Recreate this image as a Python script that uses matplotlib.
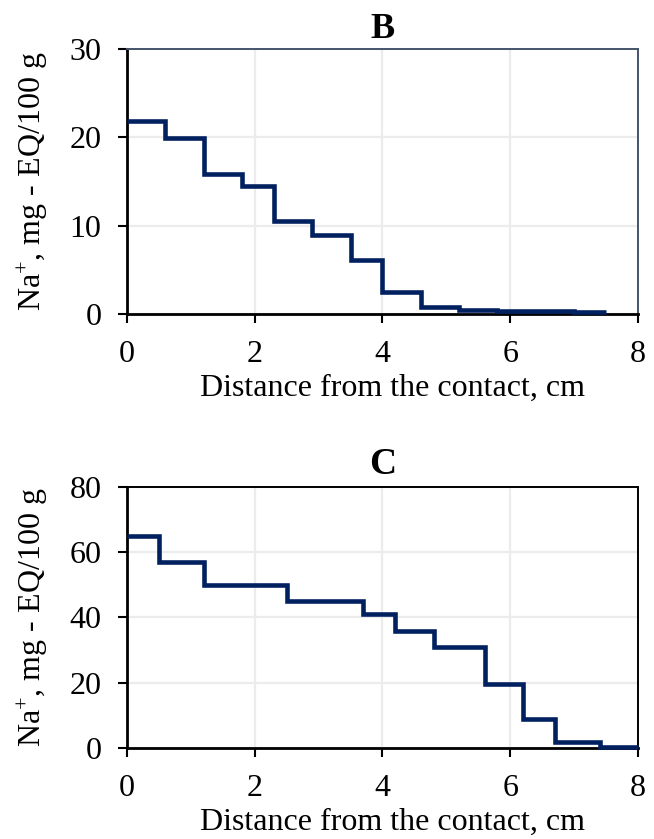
import matplotlib
matplotlib.use("Agg")
import matplotlib.pyplot as plt

# Panel B data
b_edges = [0, 0.6, 1.2, 1.8, 2.3, 2.9, 3.5, 4.0, 4.6, 5.2, 5.8, 6.4, 7.0, 7.5]
b_values = [21.8, 19.9, 15.9, 14.5, 10.5, 9.0, 6.1, 2.5, 0.8, 0.45, 0.35, 0.3, 0.25]

# Panel C data
c_edges = [0, 0.5, 1.2, 2.5, 3.7, 4.2, 4.8, 5.6, 6.2, 6.7, 7.4, 8.0]
c_values = [65, 57, 50, 45, 41, 36, 31, 19.7, 8.8, 1.8, 0.3]

x_ticks = [0, 2, 4, 6, 8]
b_yticks = [0, 10, 20, 30]
c_yticks = [0, 20, 40, 60, 80]

xlabel = "Distance from the contact, cm"
ylabel = r"Na$^{+}$, mg - EQ/100 g"

plt.rcParams['font.family'] = ['Liberation Serif', 'DejaVu Serif']
plt.rcParams['mathtext.fontset'] = 'custom'
plt.rcParams['mathtext.rm'] = 'Liberation Serif'
plt.rcParams['mathtext.it'] = 'Liberation Serif:italic'
plt.rcParams['mathtext.bf'] = 'Liberation Serif:bold'

line_color = '#002060'
fs = 23

fig = plt.figure(figsize=(6.54, 8.39), dpi=100)
axB = fig.add_axes([0.1942, 0.6257, 0.7813, 0.3159])
axC = fig.add_axes([0.1942, 0.1085, 0.7813, 0.3111])

def style(ax, edges, values, yticks, title, frame_color, title_fs, title_pad):
    ax.stairs(values, edges, baseline=None, color=line_color, linewidth=3.3, clip_on=False, zorder=3)
    ax.set_xlim(0, 8)
    ax.set_ylim(yticks[0], yticks[-1])
    ax.set_xticks(x_ticks)
    ax.set_yticks(yticks)
    ax.grid(True, color='#ececec', linewidth=1.6)
    ax.set_axisbelow(True)
    for s in ['left', 'bottom']:
        ax.spines[s].set_color('black')
        ax.spines[s].set_linewidth(2.0)
    for s in ['top', 'right']:
        ax.spines[s].set_color(frame_color)
        ax.spines[s].set_linewidth(1.4)
    ax.tick_params(axis='both', labelsize=fs, length=6.5, width=1.5, direction='out', colors='black')
    ax.tick_params(axis='x', pad=12)
    ax.tick_params(axis='y', pad=12)
    ax.set_xlabel(xlabel, fontsize=fs, labelpad=3.5)
    ax.xaxis.label.set_x(0.52)
    ax.set_ylabel(ylabel, fontsize=fs, labelpad=14)
    ax.set_title(title, fontsize=title_fs, fontweight='bold', pad=title_pad)

style(axB, b_edges, b_values, b_yticks, 'B', '#44546a', 26, 8)
style(axC, c_edges, c_values, c_yticks, 'C', 'black', 27, 9)

fig.savefig('out.png', dpi=100)
